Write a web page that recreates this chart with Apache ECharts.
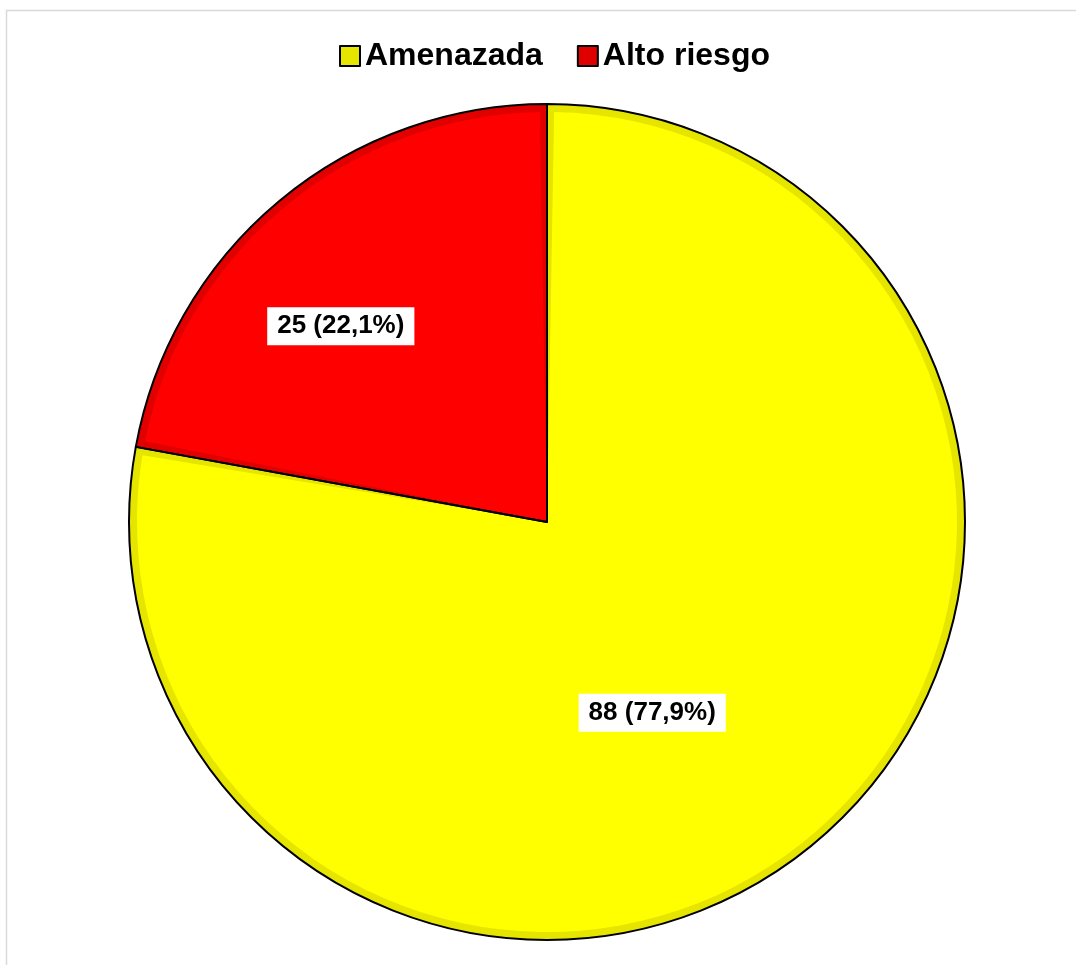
<!DOCTYPE html>
<html>
<head>
<meta charset="utf-8">
<script src="https://cdn.jsdelivr.net/npm/echarts@6/dist/echarts.min.js"></script>
<style>
  html, body { margin: 0; padding: 0; background: #fff; }
  #chart { width: 1076px; height: 965px; }
</style>
</head>
<body>
<div id="chart"></div>
<script>
const categories = ['Amenazada', 'Alto riesgo']
const values = [88, 25]
const brightColors = ['#ffff00', '#ff0000']
const darkColors = ['#e5e500', '#e00000']

const total = values.reduce((a, b) => a + b, 0)
const pct = v => (v / total * 100).toFixed(1).replace('.', ',')

// nudges for the labels (px) from the default inside position
const labelShift = [[-28, 31], [-73, -36]]

const chart = echarts.init(document.getElementById('chart'))

const center = [547, 522]

const option = {
  backgroundColor: '#ffffff',
  animation: false,
  graphic: [
    {
      type: 'rect',
      shape: { x: 6.5, y: 10.5, width: 1200, height: 1200 },
      style: { fill: 'none', stroke: '#d9d9d9', lineWidth: 1.5 },
      silent: true
    }
  ],
  legend: {
    top: 35,
    left: 334,
    itemWidth: 20,
    itemHeight: 20,
    itemGap: 34,
    icon: 'rect',
    textStyle: {
      fontFamily: 'Liberation Sans, Arial, sans-serif',
      fontSize: 32,
      fontWeight: 'bold',
      color: '#000',
      padding: [0, 0, 0, 0]
    },
    data: categories.map((name, i) => ({
      name,
      itemStyle: { color: darkColors[i], borderColor: '#000', borderWidth: 2 }
    }))
  },
  series: [
    // darker underlay gives the bevel band
    {
      type: 'pie',
      center,
      radius: 418,
      silent: true,
      label: { show: false },
      labelLine: { show: false },
      data: categories.map((name, i) => ({
        name, value: values[i], itemStyle: { color: darkColors[i] }
      }))
    },
    {
      type: 'pie',
      center,
      radius: 410,
      padAngle: 2,
      silent: true,
      labelLine: { show: false },
      label: {
        show: true,
        position: 'inside',
        formatter: p => `${p.value} (${pct(p.value)}%)`,
        fontFamily: 'Liberation Sans, Arial, sans-serif',
        fontSize: 26,
        fontWeight: 'bold',
        color: '#000',
        backgroundColor: '#fff',
        padding: [4, 10],
        lineHeight: 30
      },
      labelLayout: p => ({ dx: labelShift[p.dataIndex][0], dy: labelShift[p.dataIndex][1] }),
      data: categories.map((name, i) => ({
        name, value: values[i], itemStyle: { color: brightColors[i] }
      }))
    },
    // black outline on top
    {
      type: 'pie',
      center,
      radius: 418,
      silent: true,
      z: 5,
      label: { show: false },
      labelLine: { show: false },
      itemStyle: { color: 'rgba(0,0,0,0)', borderColor: '#000', borderWidth: 2 },
      data: categories.map((name, i) => ({ name, value: values[i] }))
    }
  ]
}

chart.setOption(option)
</script>
</body>
</html>
